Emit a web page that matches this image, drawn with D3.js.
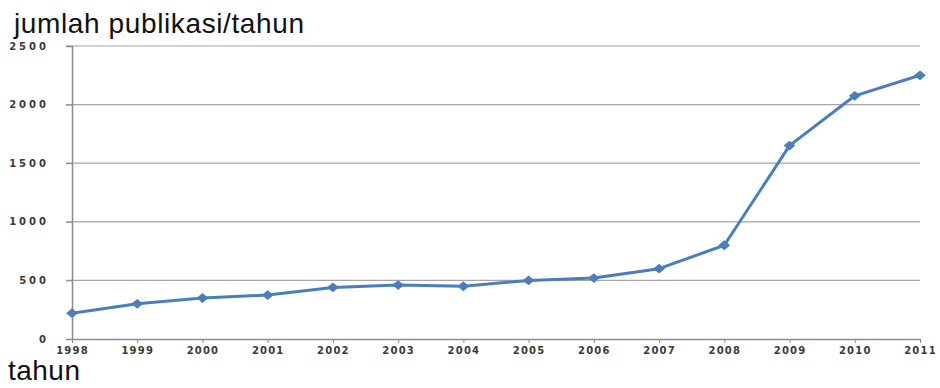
<!DOCTYPE html>
<html>
<head>
<meta charset="utf-8">
<script src="https://cdn.jsdelivr.net/npm/d3@7"></script>
<style>
  body { margin: 0; background: #fff; }
  .tick-label { font-family: "DejaVu Sans", sans-serif; font-weight: bold; font-size: 10px; fill: #3a3a3a; }
  .title { font-family: "Liberation Sans", Arial, sans-serif; font-size: 28px; fill: #111; }
</style>
</head>
<body>
<div id="vis"></div>
<script>
var years = [1998, 1999, 2000, 2001, 2002, 2003, 2004, 2005, 2006, 2007, 2008, 2009, 2010, 2011];
var publications = [220, 300, 350, 375, 440, 460, 450, 500, 520, 600, 800, 1650, 2075, 2250];
var yTicks = [0, 500, 1000, 1500, 2000, 2500];

var width = 940;
var height = 388;
var margin = { top: 46, right: 20, bottom: 49, left: 72 };

var svg = d3.select('#vis')
  .append('svg')
  .attr('width', width)
  .attr('height', height);

var x = d3.scaleLinear()
  .domain([d3.min(years), d3.max(years)])
  .range([margin.left, width - margin.right]);

var y = d3.scaleLinear()
  .domain([0, 2500])
  .range([height - margin.bottom, margin.top]);

// gridlines
svg.selectAll('.grid')
  .data(yTicks.filter(function (d) { return d > 0; }))
  .enter().append('line')
  .attr('x1', margin.left - 6)
  .attr('x2', width - margin.right)
  .attr('y1', function (d) { return y(d); })
  .attr('y2', function (d) { return y(d); })
  .attr('stroke', '#a6a6a6')
  .attr('stroke-width', 1.2);

// y axis
var yAxis = svg.append('g')
  .attr('transform', 'translate(' + margin.left + ',0)')
  .call(d3.axisLeft(y).tickValues(yTicks).tickFormat(d3.format('d')).tickSize(6).tickPadding(17));
yAxis.select('.domain').attr('stroke', '#8c8c8c').attr('stroke-width', 1.5);
yAxis.selectAll('.tick line').attr('stroke', '#8c8c8c');
yAxis.selectAll('text')
  .attr('class', 'tick-label')
  .attr('letter-spacing', '3px')
  .attr('dy', '0.3em');

// x axis
var xAxis = svg.append('g')
  .attr('transform', 'translate(0,' + y(0) + ')')
  .call(d3.axisBottom(x).tickValues(years).tickFormat(d3.format('d')).tickSize(4).tickSizeOuter(0).tickPadding(4));
xAxis.select('.domain').attr('stroke', '#8c8c8c').attr('stroke-width', 1.5);
xAxis.selectAll('.tick line').attr('stroke', '#8c8c8c');
xAxis.selectAll('text')
  .attr('class', 'tick-label')
  .attr('letter-spacing', '1.2px');

// line
var data = years.map(function (d, i) { return { year: d, value: publications[i] }; });

var line = d3.line()
  .x(function (d) { return x(d.year); })
  .y(function (d) { return y(d.value); });

svg.append('path')
  .datum(data)
  .attr('d', line)
  .attr('fill', 'none')
  .attr('stroke', '#4a7ebb')
  .attr('stroke-width', 3)
  .attr('stroke-linejoin', 'round');

svg.selectAll('.marker')
  .data(data)
  .enter().append('path')
  .attr('class', 'marker')
  .attr('transform', function (d) { return 'translate(' + x(d.year) + ',' + y(d.value) + ') scale(1.2,1) rotate(45)'; })
  .attr('d', d3.symbol().type(d3.symbolSquare).size(48))
  .attr('fill', '#4a7ebb');

// titles
svg.append('text')
  .attr('class', 'title')
  .attr('x', 14)
  .attr('y', 33)
  .attr('textLength', 290)
  .text('jumlah publikasi/tahun');

svg.append('text')
  .attr('class', 'title')
  .attr('x', 8)
  .attr('y', 380)
  .attr('textLength', 72)
  .text('tahun');
</script>
</body>
</html>
